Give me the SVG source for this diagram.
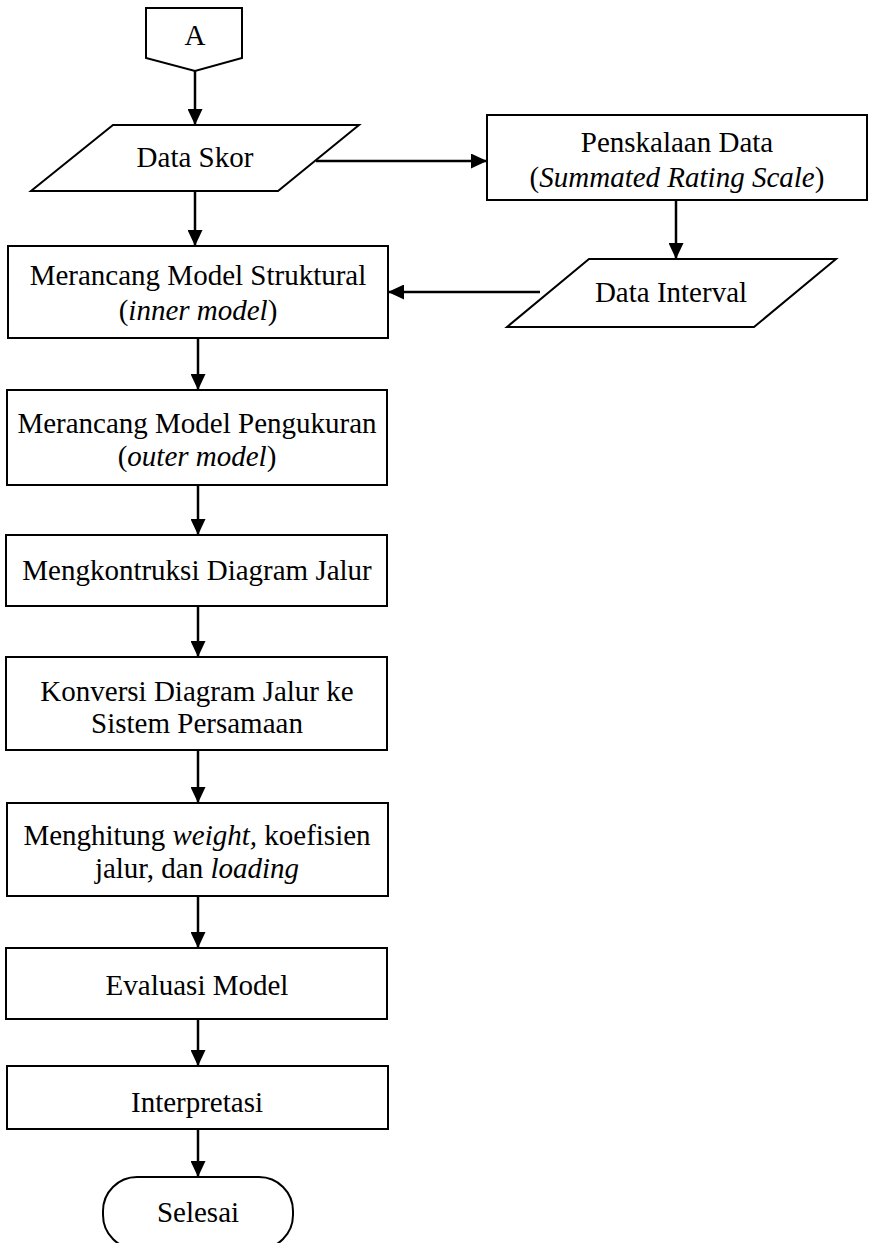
<svg xmlns="http://www.w3.org/2000/svg" width="869" height="1243" viewBox="0 0 869 1243">
  <style>
    .shape { fill: #ffffff; stroke: #000000; stroke-width: 2; }
    .label { font-family: "Liberation Serif", "Times New Roman", serif; font-size: 29px; fill: #000000; text-anchor: middle; }
    .it { font-style: italic; }
    .link { fill: none; stroke: #000000; stroke-width: 2.5; marker-end: url(#arrow); }
  </style>
  <defs>
    <marker id="arrow" markerWidth="16" markerHeight="15" refX="16" refY="7.5" orient="auto" markerUnits="userSpaceOnUse">
      <path d="M0,0 L16,7.5 L0,15 Z" fill="#000000"/>
    </marker>
  </defs>
  <rect width="869" height="1243" fill="#ffffff"/>

  <!-- connectors -->
  <g id="connectors">
    <line class="link" x1="195" y1="71" x2="195" y2="125"/>
    <line class="link" x1="316" y1="161" x2="487" y2="161"/>
    <line class="link" x1="676" y1="200" x2="676" y2="259"/>
    <line class="link" x1="540" y1="292" x2="388" y2="292"/>
    <line class="link" x1="195" y1="191" x2="195" y2="246"/>
    <line class="link" x1="198" y1="338" x2="198" y2="390"/>
    <line class="link" x1="198" y1="485" x2="198" y2="535"/>
    <line class="link" x1="198" y1="606" x2="198" y2="657"/>
    <line class="link" x1="198" y1="750" x2="198" y2="803"/>
    <line class="link" x1="198" y1="896" x2="198" y2="948"/>
    <line class="link" x1="198" y1="1019" x2="198" y2="1066"/>
    <line class="link" x1="198" y1="1129" x2="198" y2="1177"/>
  </g>

  <!-- off-page connector A -->
  <g id="node-a">
    <polygon class="shape" points="146,8 242,8 242,58 195,71 146,58"/>
    <text class="label" x="195" y="45">A</text>
  </g>

  <g id="node-data-skor">
    <polygon class="shape" points="113,125 359,125 278,191 31,191"/>
    <text class="label" x="195" y="167">Data Skor</text>
  </g>

  <g id="node-penskalaan">
    <rect class="shape" x="487" y="115" width="380" height="85"/>
    <text class="label" x="677" y="152">Penskalaan Data</text>
    <text class="label" x="677" y="187">(<tspan class="it">Summated Rating Scale</tspan>)</text>
  </g>

  <g id="node-data-interval">
    <polygon class="shape" points="589,259 836,259 754,327 507,327"/>
    <text class="label" x="671" y="302">Data Interval</text>
  </g>

  <g id="node-struktural">
    <rect class="shape" x="8" y="246" width="380" height="92"/>
    <text class="label" x="198" y="285">Merancang Model Struktural</text>
    <text class="label" x="198" y="320">(<tspan class="it">inner model</tspan>)</text>
  </g>

  <g id="node-pengukuran">
    <rect class="shape" x="7" y="390" width="380" height="95"/>
    <text class="label" x="197" y="433">Merancang Model Pengukuran</text>
    <text class="label" x="197" y="466">(<tspan class="it">outer model</tspan>)</text>
  </g>

  <g id="node-diagram-jalur">
    <rect class="shape" x="6" y="535" width="381" height="71"/>
    <text class="label" x="197" y="580">Mengkontruksi Diagram Jalur</text>
  </g>

  <g id="node-konversi">
    <rect class="shape" x="6" y="657" width="381" height="93"/>
    <text class="label" x="197" y="701">Konversi Diagram Jalur ke</text>
    <text class="label" x="197" y="733">Sistem Persamaan</text>
  </g>

  <g id="node-menghitung">
    <rect class="shape" x="7" y="803" width="381" height="93"/>
    <text class="label" x="197" y="845">Menghitung <tspan class="it">weight,</tspan> koefisien</text>
    <text class="label" x="197" y="878">jalur, dan <tspan class="it">loading</tspan></text>
  </g>

  <g id="node-evaluasi">
    <rect class="shape" x="6" y="948" width="381" height="71"/>
    <text class="label" x="197" y="995">Evaluasi Model</text>
  </g>

  <g id="node-interpretasi">
    <rect class="shape" x="7" y="1066" width="381" height="63"/>
    <text class="label" x="197" y="1112">Interpretasi</text>
  </g>

  <g id="node-selesai">
    <rect class="shape" x="103" y="1177" width="190" height="72" rx="34" ry="34"/>
    <text class="label" x="198" y="1222">Selesai</text>
  </g>
</svg>
